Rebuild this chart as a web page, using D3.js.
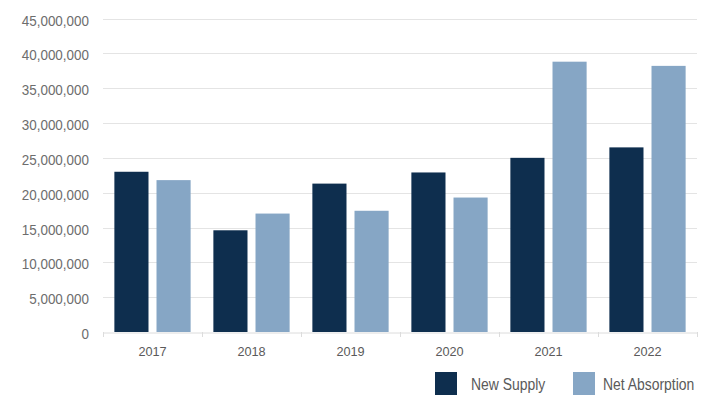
<!DOCTYPE html>
<html><head><meta charset="utf-8">
<script src="https://cdn.jsdelivr.net/npm/d3@7"></script>
<style>
body{margin:0;background:#fff;}
text{font-family:"Liberation Sans",Arial,sans-serif;}
</style></head>
<body><svg id="c" width="714" height="395"></svg>
<script>
const years = ["2017","2018","2019","2020","2021","2022"];
const seriesNames = ["New Supply","Net Absorption"];
const newSupply = [23000000,14600000,21300000,22900000,25000000,26500000];
const netAbsorption = [21800000,17000000,17400000,19300000,38800000,38200000];
const yTicks = [0,5000000,10000000,15000000,20000000,25000000,30000000,35000000,40000000,45000000];
const colors = ["#0e2e4e","#86a6c5"];

const svg = d3.select("#c");
const m = {l:103, r:17, t:18.5, b:63};
const W = 714, H = 395;
const x0 = d3.scaleBand().domain(years).range([m.l, W-m.r]).paddingInner(0).paddingOuter(0);
const x1 = d3.scaleBand().domain(seriesNames).range([0, x0.bandwidth()]).paddingInner(0.19).paddingOuter(0.27);
const y = d3.scaleLinear().domain([0,45000000]).range([H-m.b, m.t]);

function squeeze(sel, f){
  sel.each(function(){
    const n = this.getComputedTextLength();
    d3.select(this).attr("textLength", n*f).attr("lengthAdjust","spacingAndGlyphs");
  });
}

// grid
svg.append("g").selectAll("line").data(yTicks.slice(1)).join("line")
  .attr("x1", m.l).attr("x2", W-m.r)
  .attr("y1", d=>Math.round(y(d))+0.5).attr("y2", d=>Math.round(y(d))+0.5)
  .attr("stroke","#e4e4e4").attr("stroke-width",1);

// y axis
const ya = svg.append("g").attr("transform",`translate(${m.l},0)`)
  .call(d3.axisLeft(y).tickValues(yTicks).tickFormat(d3.format(",")).tickSize(0).tickPadding(14));
ya.select(".domain").remove();
ya.selectAll("text").attr("fill","#6d6d6d").style("font-size","14px").attr("dy","6.5px");
squeeze(ya.selectAll("text"), 0.96);

// bars
const data = years.map((yr,i)=>({yr, vals:[newSupply[i], netAbsorption[i]]}));
const g = svg.append("g").selectAll("g").data(data).join("g")
  .attr("transform", d=>`translate(${x0(d.yr)},0)`);
g.selectAll("rect").data(d=>d.vals.map((v,j)=>({k:seriesNames[j], v, j}))).join("rect")
  .attr("x", d=>x1(d.k)).attr("width", x1.bandwidth())
  .attr("y", d=>y(d.v)).attr("height", d=>y(0)-y(d.v))
  .attr("fill", d=>colors[d.j]);

// x axis
const xa = svg.append("g").attr("transform",`translate(0,${Math.round(y(0))+0.5})`)
  .call(d3.axisBottom(x0).tickSize(0));
xa.select(".domain").attr("stroke","#dcdcdc");
xa.selectAll("text").attr("fill","#5a5a5a").style("font-size","12.7px").attr("y",23.2).attr("dy","0");
// boundary ticks
svg.append("g").selectAll("line").data(d3.range(years.length+1)).join("line")
  .attr("x1", i=>Math.round(m.l + i*x0.step())+0.5).attr("x2", i=>Math.round(m.l + i*x0.step())+0.5)
  .attr("y1", Math.round(y(0))).attr("y2", Math.round(y(0))+5)
  .attr("stroke","#dcdcdc");

// legend
const leg = svg.append("g");
const legX = [435, 573];
const legTX = [471, 603];
seriesNames.forEach((s,i)=>{
  leg.append("rect").attr("x",legX[i]).attr("y",372).attr("width",22).attr("height",23).attr("fill",colors[i]);
  leg.append("text").attr("x",legTX[i]).attr("y",389.7).text(s)
    .attr("fill","#5a5a5a").style("font-size","16px");
});
squeeze(leg.selectAll("text"), 0.87);
</script></body></html>
